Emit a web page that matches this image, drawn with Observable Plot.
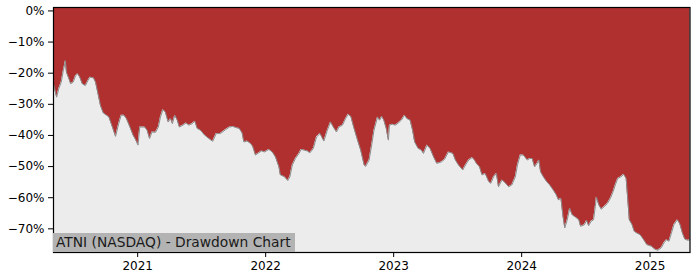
<!DOCTYPE html>
<html><head><meta charset="utf-8">
<script src="https://cdn.jsdelivr.net/npm/d3@7"></script>
<script src="https://cdn.jsdelivr.net/npm/@observablehq/plot@0.6"></script>
<style>
body{margin:0;background:#fff;}
#wrap{position:relative;width:700px;height:280px;font-family:"DejaVu Sans",sans-serif;}
#label{position:absolute;left:53px;top:233px;height:19px;width:242px;background:#b3b3b3;font-size:13.8px;line-height:19px;padding-left:3px;box-sizing:border-box;color:#1a1a1a;white-space:nowrap;}
</style></head><body><div id="wrap"></div>
<script>
const dates = [
"2020-05-06","2020-05-15","2020-05-21","2020-05-28","2020-06-03","2020-06-09","2020-06-12","2020-06-19","2020-06-24","2020-07-01",
"2020-07-08","2020-07-14","2020-07-20","2020-07-27","2020-08-05","2020-08-12","2020-08-18","2020-08-28","2020-09-03","2020-09-10",
"2020-09-17","2020-09-25","2020-10-04","2020-10-11","2020-10-21","2020-10-30","2020-11-08","2020-11-15","2020-11-23","2020-11-30",
"2020-12-10","2020-12-19","2020-12-26","2021-01-02","2021-01-07","2021-01-21","2021-01-28","2021-02-04","2021-02-11","2021-02-21",
"2021-03-01","2021-03-07","2021-03-14","2021-03-21","2021-03-29","2021-04-05","2021-04-10","2021-04-17","2021-04-24","2021-04-30",
"2021-05-10","2021-05-19","2021-05-27","2021-06-06","2021-06-13","2021-06-20","2021-06-29","2021-07-11","2021-07-23","2021-08-03",
"2021-08-13","2021-08-25","2021-09-09","2021-09-20","2021-09-29","2021-10-09","2021-10-18","2021-10-26","2021-10-31","2021-11-09",
"2021-11-19","2021-11-25","2021-12-03","2021-12-12","2021-12-20","2021-12-29","2022-01-10","2022-01-20","2022-01-29","2022-02-08",
"2022-02-12","2022-02-24","2022-03-05","2022-03-11","2022-03-18","2022-03-27","2022-04-06","2022-04-12","2022-04-20","2022-04-30",
"2022-05-07","2022-05-17","2022-05-26","2022-06-05","2022-06-16","2022-06-26","2022-07-05","2022-07-13","2022-07-22","2022-07-29",
"2022-08-08","2022-08-17","2022-08-24","2022-09-01","2022-09-09","2022-09-20","2022-09-29","2022-10-09","2022-10-13","2022-10-23",
"2022-10-31","2022-11-06","2022-11-16","2022-11-22","2022-11-28","2022-12-04","2022-12-11","2022-12-17","2022-12-20","2022-12-28",
"2023-01-06","2023-01-14","2023-01-23","2023-02-01","2023-02-08","2023-02-17","2023-02-24","2023-03-02","2023-03-12","2023-03-21",
"2023-03-27","2023-04-06","2023-04-15","2023-04-25","2023-05-04","2023-05-17","2023-05-26","2023-06-06","2023-06-19","2023-06-26",
"2023-07-05","2023-07-17","2023-07-25","2023-08-03","2023-08-13","2023-08-20","2023-08-25","2023-09-03","2023-09-10","2023-09-19",
"2023-09-29","2023-10-05","2023-10-13","2023-10-21","2023-10-27","2023-11-06","2023-11-15","2023-11-25","2023-12-04","2023-12-14",
"2023-12-20","2023-12-28","2024-01-06","2024-01-17","2024-01-24","2024-01-31","2024-02-07","2024-02-14","2024-02-19","2024-02-24",
"2024-03-03","2024-03-12","2024-03-21","2024-03-31","2024-04-09","2024-04-15","2024-04-22","2024-04-28","2024-05-03","2024-05-10",
"2024-05-17","2024-05-24","2024-06-02","2024-06-12","2024-06-17","2024-06-28","2024-07-04","2024-07-10","2024-07-17","2024-07-24",
"2024-07-29","2024-08-01","2024-08-08","2024-08-15","2024-08-24","2024-09-02","2024-09-10","2024-09-18","2024-09-24","2024-10-01",
"2024-10-10","2024-10-18","2024-10-25","2024-10-29","2024-11-03","2024-11-11","2024-11-17","2024-11-25","2024-12-04","2024-12-14",
"2024-12-23","2025-01-05","2025-01-14","2025-01-23","2025-02-02","2025-02-10","2025-02-17","2025-02-24","2025-03-03","2025-03-10",
"2025-03-20","2025-03-27","2025-04-03","2025-04-10","2025-04-19","2025-04-25"
];
const drawdown = [
-23.5,-27.7,-25.0,-22.9,-19.2,-16.0,-19.7,-21.8,-23.4,-22.9,
-20.8,-20.2,-21.3,-23.4,-24.0,-22.4,-21.3,-21.5,-22.9,-26.6,
-30.4,-32.8,-33.5,-34.1,-37.3,-40.3,-36.2,-33.5,-33.5,-34.6,
-37.3,-39.9,-41.3,-43.1,-37.3,-37.3,-38.3,-41.0,-38.9,-39.0,
-37.3,-34.1,-31.7,-32.5,-35.7,-34.6,-36.2,-33.5,-35.1,-37.3,
-36.7,-36.0,-36.7,-36.2,-35.4,-37.8,-38.3,-39.9,-41.0,-41.9,
-39.4,-39.4,-38.1,-37.3,-37.1,-37.5,-37.8,-39.2,-42.1,-41.8,
-42.6,-43.5,-46.3,-45.6,-45.0,-45.3,-44.5,-45.3,-46.9,-50.1,
-52.7,-53.3,-54.5,-53.3,-49.5,-47.4,-45.8,-44.5,-44.7,-45.0,
-45.6,-44.2,-40.5,-39.4,-41.8,-38.3,-35.7,-37.3,-38.9,-37.3,
-36.7,-34.6,-33.2,-33.9,-37.3,-41.5,-44.7,-49.5,-50.0,-47.9,
-42.6,-38.3,-34.1,-35.1,-33.9,-35.1,-37.8,-41.5,-36.7,-36.4,
-36.7,-36.0,-35.1,-33.5,-34.6,-35.1,-38.3,-42.1,-44.2,-44.7,
-45.8,-43.1,-44.2,-46.9,-49.0,-48.5,-47.7,-45.3,-45.8,-47.9,
-49.5,-51.1,-49.5,-47.9,-47.1,-48.0,-49.0,-50.1,-52.7,-52.2,
-54.8,-55.4,-53.3,-52.2,-56.5,-54.3,-55.2,-56.5,-55.9,-53.3,
-49.5,-46.3,-46.3,-47.9,-47.4,-47.4,-50.1,-49.0,-47.9,-51.7,
-53.3,-54.8,-55.9,-57.5,-59.1,-60.7,-60.2,-66.0,-69.7,-67.1,
-63.4,-65.5,-66.2,-67.1,-69.2,-68.7,-67.3,-69.0,-67.6,-67.1,
-62.8,-59.8,-62.3,-63.7,-62.8,-61.8,-60.2,-58.0,-55.9,-53.8,
-53.3,-52.5,-53.8,-59.6,-67.1,-68.7,-70.8,-71.4,-71.9,-73.5,
-75.1,-75.6,-76.5,-76.9,-76.1,-74.5,-73.5,-74.0,-71.4,-68.7,
-67.1,-68.4,-71.2,-73.3,-73.7,-73.5
];
const yTicks = [0, -10, -20, -30, -40, -50, -60, -70];
const xTickDates = ["2021-01-01", "2022-01-01", "2023-01-01", "2024-01-01", "2025-01-01"];
const xTickLabels = ["2021", "2022", "2023", "2024", "2025"];
const title = "ATNI (NASDAQ) - Drawdown Chart";

const data = dates.map((d, i) => ({date: new Date(d), dd: drawdown[i]}));
const yTop = 1.1, yBottom = -77.6;
const xt = xTickDates.map(d => new Date(d));

const chart = Plot.plot({
  width: 700, height: 280,
  marginLeft: 53, marginRight: 10.5, marginTop: 7, marginBottom: 28,
  style: {fontFamily: "DejaVu Sans", fontSize: "12px", background: "white", color: "#000"},
  x: {type: "utc", domain: [data[0].date, data[data.length - 1].date], ticks: xt,
      tickFormat: d => xTickLabels[xt.findIndex(t => +t === +d)], tickSize: 5, tickPadding: 4, label: null},
  y: {domain: [yBottom, yTop], ticks: yTicks,
      tickFormat: d => (d < 0 ? "\u2212" : "") + Math.abs(d) + "%", tickSize: 5, tickPadding: 4, label: null},
  marks: [
    Plot.frame({fill: "#ececec", stroke: null}),
    Plot.areaY(data, {x: "date", y1: "dd", y2: () => yTop, fill: "#b03030"}),
    Plot.lineY(data, {x: "date", y: "dd", stroke: "#8c8c8c", strokeWidth: 1}),
    Plot.frame({stroke: "black", strokeWidth: 1.2})
  ]
});
const wrap = document.getElementById("wrap");
wrap.appendChild(chart);
const lab = document.createElement("div");
lab.id = "label";
lab.textContent = title;
wrap.appendChild(lab);
</script></body></html>
